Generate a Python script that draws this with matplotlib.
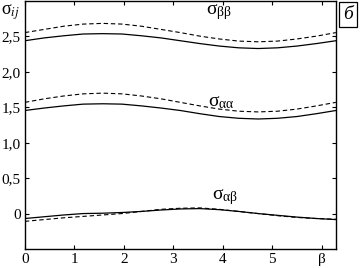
import numpy as np
import matplotlib.pyplot as plt

plt.rcParams['font.family'] = ['Liberation Serif', 'DejaVu Serif']
plt.rcParams['mathtext.fontset'] = 'stix'

# beta grid, step pi/8
beta = np.arange(17) * np.pi / 8

s_bb = [2.44, 2.48, 2.51, 2.535, 2.54, 2.535, 2.51, 2.48, 2.44,
        2.40, 2.365, 2.34, 2.33, 2.34, 2.365, 2.40, 2.44]
s_bb_d = [2.555, 2.60, 2.645, 2.675, 2.685, 2.675, 2.645, 2.60, 2.555,
          2.505, 2.465, 2.435, 2.425, 2.435, 2.465, 2.505, 2.555]
s_aa = [1.455, 1.49, 1.52, 1.545, 1.55, 1.545, 1.52, 1.49, 1.455,
        1.41, 1.37, 1.345, 1.335, 1.345, 1.37, 1.41, 1.455]
s_aa_d = [1.57, 1.62, 1.66, 1.69, 1.70, 1.69, 1.66, 1.62, 1.57,
          1.52, 1.475, 1.445, 1.435, 1.445, 1.475, 1.52, 1.57]
s_ab = [-0.07, -0.045, -0.02, 0.0, 0.005, 0.015, 0.03, 0.05, 0.065,
        0.07, 0.055, 0.03, 0.0, -0.025, -0.05, -0.07, -0.085]
s_ab_d = [-0.11, -0.085, -0.06, -0.04, -0.02, 0.0, 0.03, 0.06, 0.075,
          0.08, 0.06, 0.03, 0.0, -0.03, -0.055, -0.07, -0.08]

xticks = [0, 1, 2, 3, 4, 5, 6]
xlabels = ['0', '1', '2', '3', '4', '5', 'β']
yticks = [0, 0.5, 1.0, 1.5, 2.0, 2.5]
ylabels = ['0', '0,5', '1,0', '1,5', '2,0', '2,5']

fig = plt.figure(figsize=(3.6, 2.68), dpi=100)
ax = fig.add_axes([0.069, 0.071, 0.864, 0.925])

for solid, dashed in [(s_bb, s_bb_d), (s_aa, s_aa_d), (s_ab, s_ab_d)]:
    ax.plot(beta, solid, color='black', lw=0.9)
    ax.plot(beta, dashed, color='black', lw=0.8, ls=(0, (4, 2.5)))

ax.set_xlim(0, 2 * np.pi)
ax.set_ylim(-0.5, 3.0)
ax.set_xticks(xticks)
ax.set_xticklabels(xlabels)
ax.set_yticks(yticks)
ax.set_yticklabels(ylabels)
ax.tick_params(direction='in', top=True, right=True, length=3, width=0.8,
               labelsize=11, pad=3)
for sp in ax.spines.values():
    sp.set_linewidth(1.0)

ax.text(3.66, 2.70, r'$\mathregular{σ_{ββ}}$', fontsize=14, va='bottom')
ax.text(3.70, 1.45, r'$\mathregular{σ_{αα}}$', fontsize=14, va='bottom')
ax.text(3.78, 0.09, r'$\mathregular{σ_{αβ}}$', fontsize=14, va='bottom')

fig.text(0.003, 0.955, r'$\mathregular{σ}_{ij}$', fontsize=13, va='center')
fig.text(0.967, 0.945, 'б', fontsize=14, style='italic', ha='center',
         va='center',
         bbox=dict(boxstyle='square,pad=0.2', fc='white', ec='black',
                   lw=0.9))

fig.savefig('out.png', dpi=100)
